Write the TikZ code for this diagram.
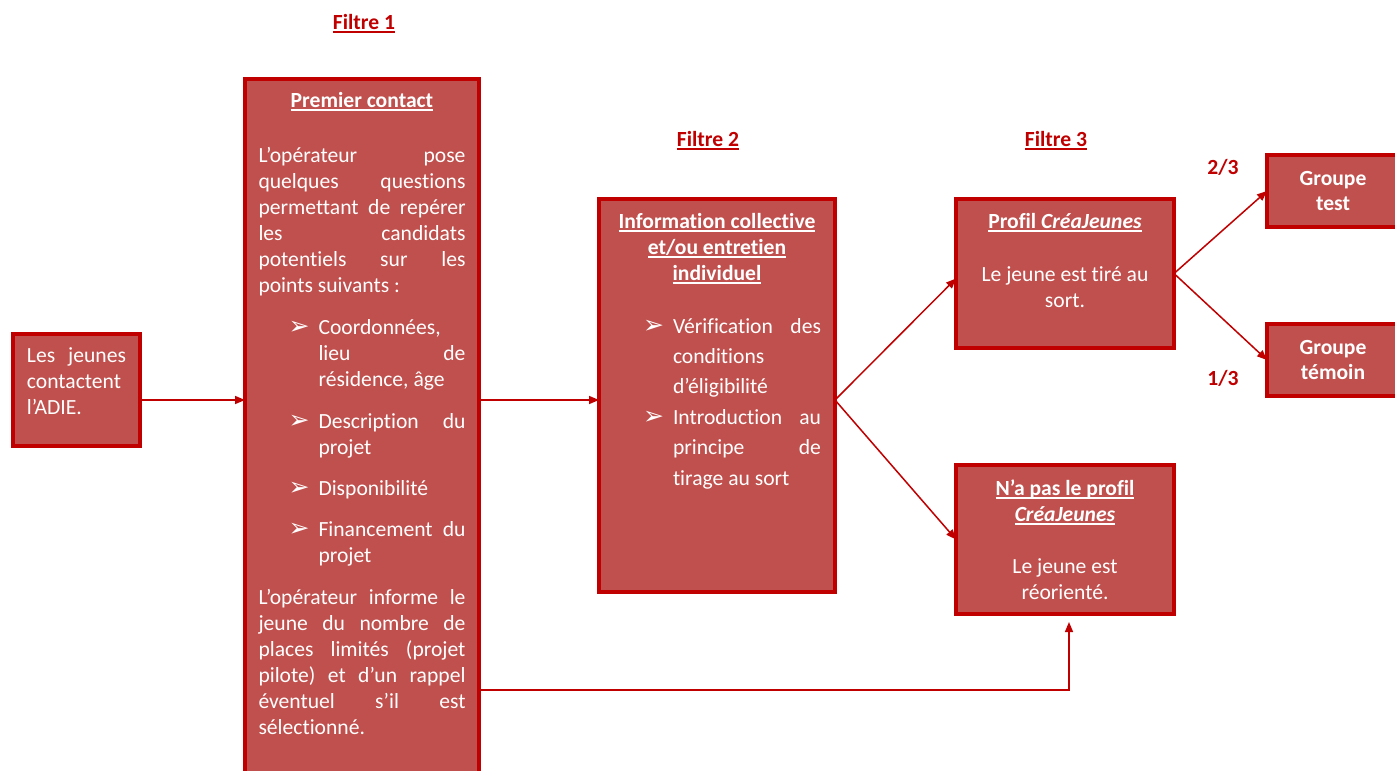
\documentclass[tikz,border=0pt]{standalone}
\usepackage{fontspec}
\setmainfont[Ligatures={NoCommon}]{Carlito}
\newfontfamily\dejavu{DejaVu Sans}
\usetikzlibrary{arrows.meta}
\definecolor{boxfill}{HTML}{C0504D}
\definecolor{boxline}{HTML}{C00000}
\newcommand\myul[1]{\setbox0\hbox{#1}\rlap{\rule[-3.5pt]{\wd0}{1.4pt}}\box0}
\newdimen\bulind
\newdimen\txtind
\newcommand\arrowsym{\raisebox{-0.5pt}{\fontsize{25pt}{25pt}\dejavu ➢}}
\newcommand\bitem[1]{\hbox to\hsize{\hbox to\txtind{\hskip\bulind\arrowsym\hfil}#1}}
\newcommand\bcont[1]{\hbox to\hsize{\hskip\txtind #1}}
\newcommand\jstline[1]{\hbox to\hsize{#1}}
\newcommand\lftline[1]{\hbox to\hsize{#1\hfil}}
\newcommand\ctrline[1]{\hbox to\hsize{\hfil#1\hfil}}
\newcommand\firstbase[1]{\hbox{}\vskip\dimexpr#1-\baselineskip\relax}
\begin{document}
\begin{tikzpicture}[x=1pt,y=-1pt,
  box/.style={draw=boxline, fill=boxfill, line width=4pt, anchor=north west,
    outer sep=0pt, inner ysep=0pt, text=white,
    font=\fontsize{21.6pt}{26pt}\selectfont},
  lbl/.style={text=boxline, font=\fontsize{21.6pt}{26pt}\selectfont\bfseries,
    anchor=base, inner sep=0pt},
  conn/.style={draw=boxline, line width=1.5pt, -{Triangle[length=10pt,width=8pt]}}]
\useasboundingbox (0,0) rectangle (1395,771);

% boxes
\node[box, inner xsep=14pt] (A) at (13,334) {\vbox to 112pt{\hsize=99pt\relax
  \firstbase{28pt}
  \jstline{Les jeunes}
  \lftline{contactent}
  \lftline{l’ADIE.}
  \vfill}};

\node[box, inner xsep=13.5pt] (B) at (245,79) {\vbox to 721pt{\hsize=207pt\relax
  \bulind=30pt \txtind=60pt
  \firstbase{28pt}
  \ctrline{\bfseries\myul{Premier contact}}
  \vskip 29pt
  \jstline{L’opérateur pose}
  \jstline{quelques questions}
  \jstline{permettant de repérer}
  \jstline{les candidats}
  \jstline{potentiels sur les}
  \lftline{points suivants :}
  \vskip 16pt
  \bitem{Coordonnées,\hfil}
  \bcont{lieu de}
  \bcont{résidence, âge\hfil}
  \vskip 16pt
  \bitem{Description du}
  \bcont{projet\hfil}
  \vskip 15pt
  \bitem{Disponibilité\hfil}
  \vskip 15pt
  \bitem{Financement du}
  \bcont{projet\hfil}
  \vskip 16pt
  \jstline{L’opérateur informe le}
  \jstline{jeune du nombre de}
  \jstline{places limités (projet}
  \jstline{pilote) et d’un rappel}
  \jstline{éventuel s’il est}
  \lftline{sélectionné.}
  \vfill}};

\node[box, inner xsep=14pt] (C) at (599,199) {\vbox to 393pt{\hsize=208pt\relax
  \bulind=30pt \txtind=60pt
  \firstbase{29pt}
  \ctrline{\bfseries\myul{Information collective}}
  \ctrline{\bfseries\myul{et/ou entretien}}
  \ctrline{\bfseries\myul{individuel}}
  \baselineskip=30.4pt
  \vskip 22.6pt
  \bitem{Vérification des}
  \bcont{conditions\hfil}
  \bcont{d’éligibilité\hfil}
  \bitem{Introduction au}
  \bcont{principe de}
  \bcont{tirage au sort\hfil}
  \vfill}};

\node[box, inner xsep=10pt] (D) at (956,199) {\vbox to 149pt{\hsize=198pt\relax
  \firstbase{29pt}
  \ctrline{\bfseries\myul{Profil \textit{CréaJeunes}}}
  \vskip 27pt
  \ctrline{Le jeune est tiré au}
  \ctrline{sort.}
  \vfill}};

\node[box, inner xsep=10pt] (E) at (956,465) {\vbox to 149pt{\hsize=198pt\relax
  \firstbase{30pt}
  \ctrline{\bfseries\myul{N’a pas le profil}}
  \ctrline{\bfseries\myul{\itshape CréaJeunes}}
  \vskip 26pt
  \ctrline{Le jeune est}
  \ctrline{réorienté.}
  \vfill}};

\node[box, inner xsep=6pt] (F) at (1267,155) {\vbox to 72pt{\hsize=120pt\relax
  \firstbase{30pt}
  \ctrline{\bfseries Groupe}
  \vskip -1pt
  \ctrline{\bfseries test}
  \vfill}};

\node[box, inner xsep=6pt] (G) at (1267,324) {\vbox to 72pt{\hsize=120pt\relax
  \firstbase{30pt}
  \ctrline{\bfseries Groupe}
  \vskip -1pt
  \ctrline{\bfseries témoin}
  \vfill}};

% labels
\node[lbl] (f1) at (364,29) {\myul{Filtre 1}};
\node[lbl] (f2) at (708,146) {\myul{Filtre 2}};
\node[lbl] (f3) at (1056,146) {\myul{Filtre 3}};
\node[lbl] (p23) at (1223,174) {2/3};
\node[lbl] (p13) at (1223,385) {1/3};

% connectors
\coordinate (ab) at ([yshift=-10pt]A.east);
\coordinate (cs) at ([yshift=-4.5pt]C.east);
\coordinate (low) at (1069,690);
\draw[conn] (ab) -- (ab -| B.west);
\draw[conn] (ab -| B.east) -- (ab -| C.west);
\draw[conn] (cs) -- ([yshift=-5pt]D.west);
\draw[conn] (cs) -- (E.west);
\draw[conn] (D.east) -- (F.west);
\draw[conn] (D.east) -- (G.west);
\draw[conn] (B.east |- low) -| ([yshift=-8pt]low |- E.south);
\end{tikzpicture}
\end{document}
